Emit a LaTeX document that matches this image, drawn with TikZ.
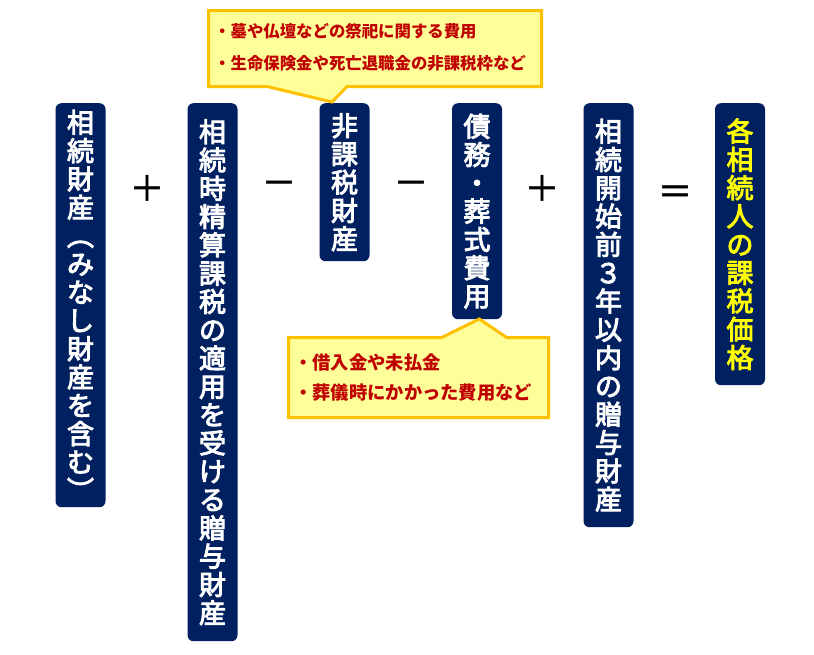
\documentclass[tikz,border=0pt]{standalone}
\usepackage{fontspec}
\newfontfamily\jp{Noto Sans CJK JP}
\newfontfamily\jpm[FakeBold=3.5]{Noto Sans CJK JP}
\newfontfamily\jpop[FakeBold=1.5]{Noto Sans CJK JP}
\definecolor{navy}{HTML}{002060}
\definecolor{calfill}{HTML}{FFFF99}
\definecolor{calline}{HTML}{FFC000}
\definecolor{calred}{HTML}{C00000}
\definecolor{ytext}{HTML}{FFFF00}
\tikzset{
  vbox/.style={fill=navy, rounded corners=6pt, minimum width=50pt, inner sep=0pt,
    align=center, text=white, anchor=north,
    font=\jpm\fontsize{27}{28.3}\selectfont},
  opsym/.style={font=\jpop\fontsize{35}{35}\selectfont, inner sep=0pt},
  callout/.style={fill=calfill, draw=calline, line width=3pt, line join=miter},
  caltext/.style={text=calred, anchor=west, inner sep=0pt},
}
\begin{document}
\begin{tikzpicture}[x=1pt,y=-1pt]
\useasboundingbox[fill=white] (0,0) rectangle (814,654);
% boxes
\node[vbox, minimum height=404pt] (b1) at (80.5,103)
  {相\\続\\財\\産\\︵\\み\\な\\し\\財\\産\\を\\含\\む\\︶};
\node[vbox, minimum height=538pt] (b2) at (212.5,103)
  {相\\続\\時\\精\\算\\課\\税\\の\\適\\用\\を\\受\\け\\る\\贈\\与\\財\\産};
\node[vbox, minimum height=158pt] (b3) at (344.5,103)
  {非\\課\\税\\財\\産};
\node[vbox, minimum height=216pt] (b4) at (477,103)
  {債\\務\\・\\葬\\式\\費\\用};
\node[vbox, minimum height=424pt] (b5) at (608.5,103)
  {相\\続\\開\\始\\前\\３\\年\\以\\内\\の\\贈\\与\\財\\産};
\node[vbox, minimum height=282pt, text=ytext] (b6) at (740,103)
  {各\\相\\続\\人\\の\\課\\税\\価\\格};
% operators
\node[opsym] (o1) at (147,188) {＋};
\node[opsym] (o2) at (279,188) {－};
\node[opsym] (o3) at (411,188) {－};
\node[opsym] (o4) at (542,188) {＋};
\node[opsym] (o5) at (675,195) {＝};
% callout 1
\draw[callout] (208.5,10.5) -- (541.5,10.5) -- (541.5,86.5) -- (347,86.5)
  -- (332,102) -- (267,86.5) -- (208.5,86.5) -- cycle;
\node[caltext, font=\jp\bfseries\fontsize{16.4}{16.4}\selectfont] (c1a) at (214,31.5)
  {・墓や仏壇などの祭祀に関する費用};
\node[caltext, font=\jp\bfseries\fontsize{16.4}{16.4}\selectfont] (c1b) at (214,63.5)
  {・生命保険金や死亡退職金の非課税枠など};
% callout 2
\draw[callout] (288.5,337.5) -- (441.7,337.5) -- (479.3,319) -- (506.7,337.5)
  -- (548.5,337.5) -- (548.5,417.5) -- (288.5,417.5) -- cycle;
\node[caltext, font=\jp\bfseries\fontsize{18.3}{18.3}\selectfont] (c2a) at (294,363)
  {・借入金や未払金};
\node[caltext, font=\jp\bfseries\fontsize{18.3}{18.3}\selectfont] (c2b) at (294,393)
  {・葬儀時にかかった費用など};
\end{tikzpicture}
\end{document}
